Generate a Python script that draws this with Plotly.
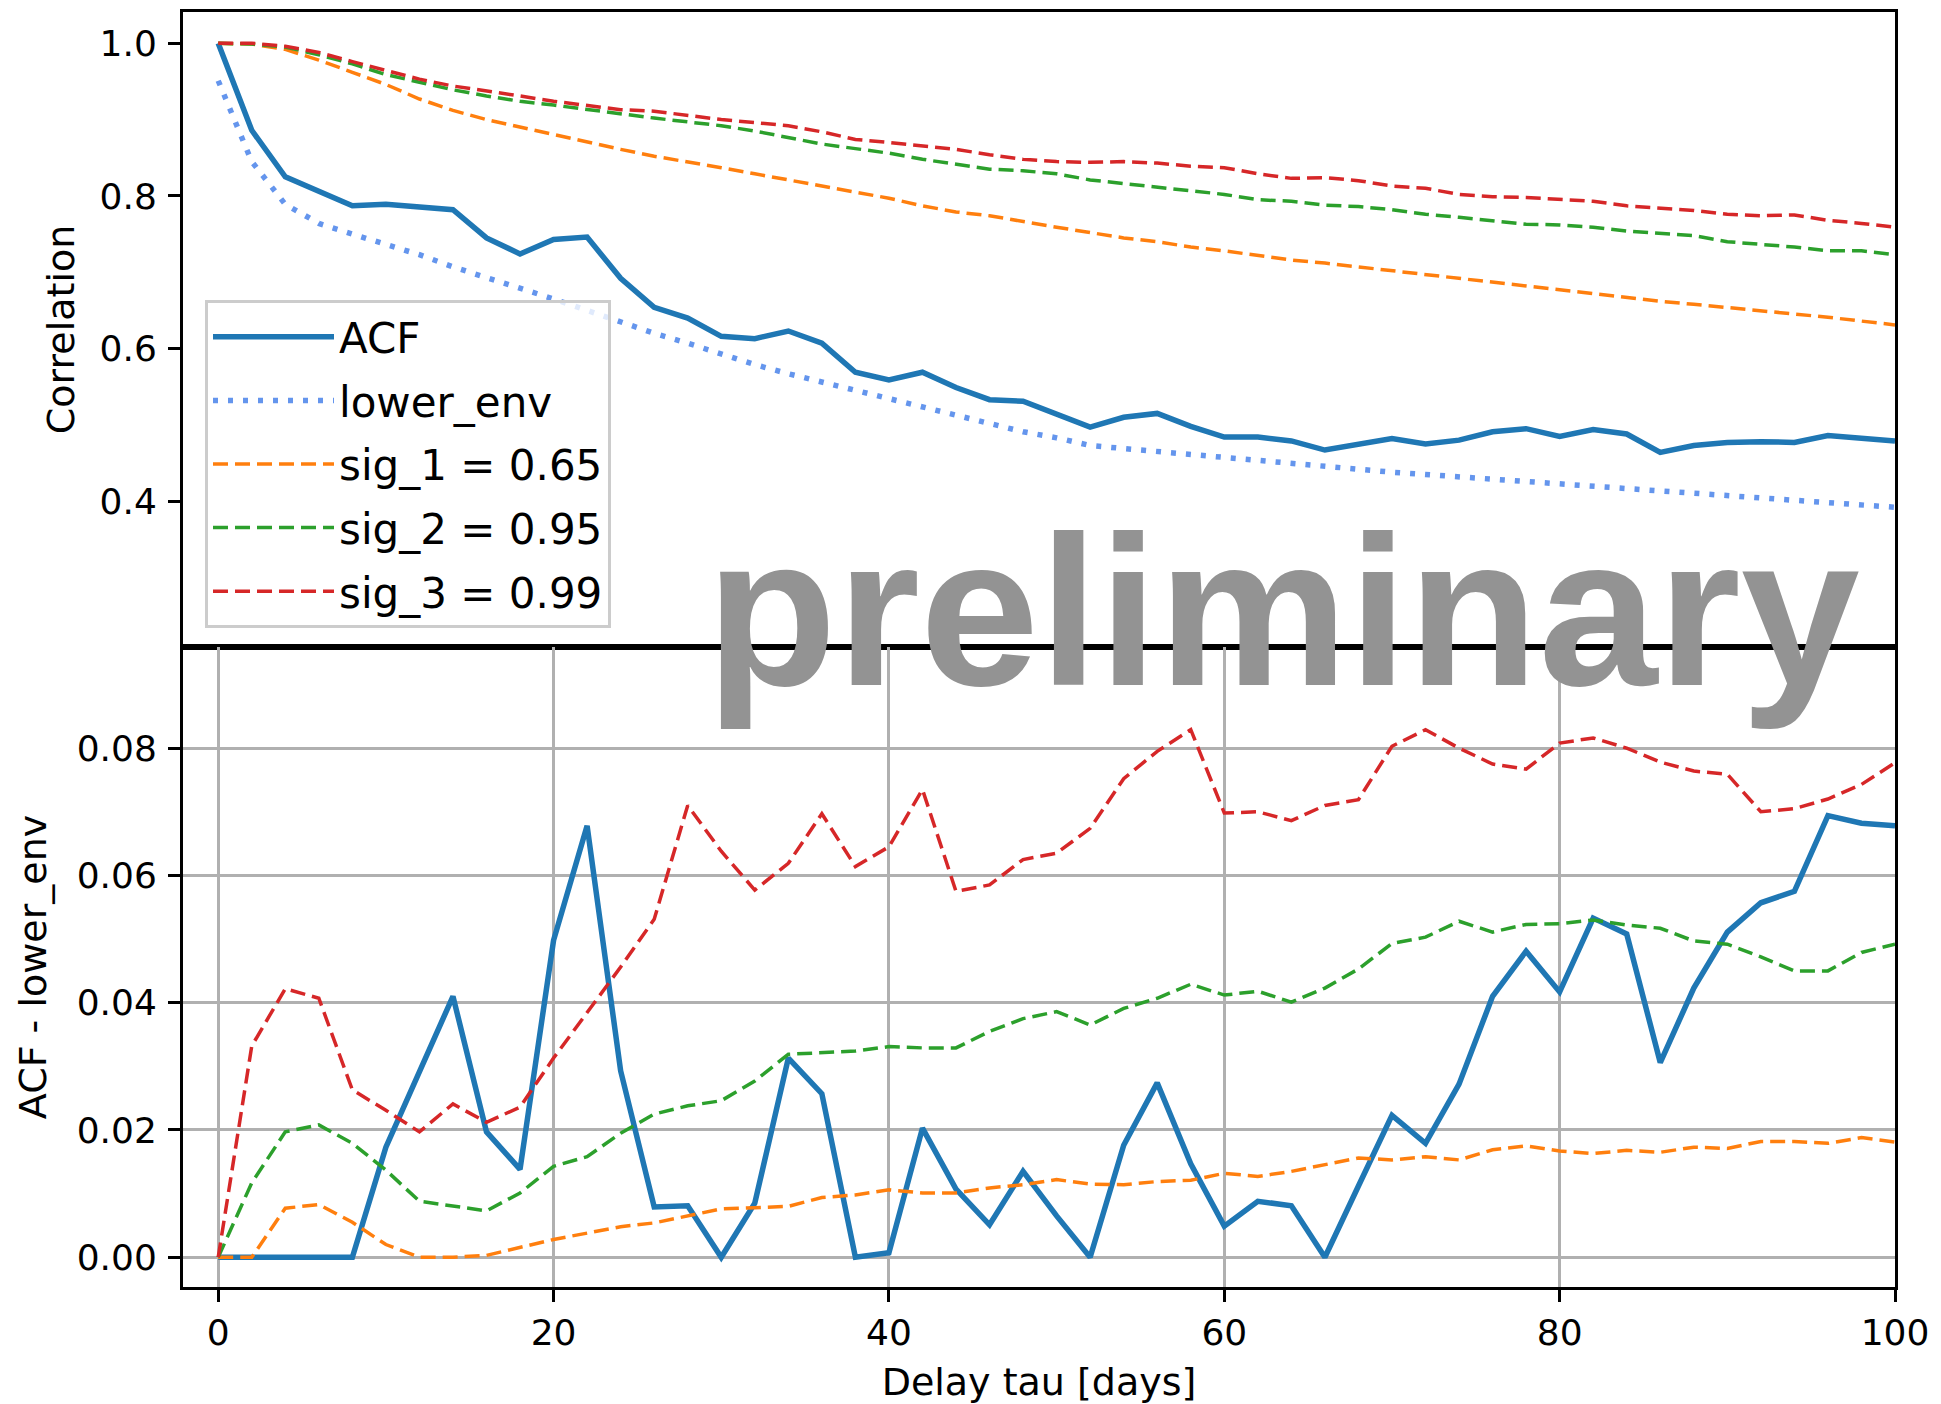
import plotly.graph_objects as go
from plotly.subplots import make_subplots

# Delay grid (days)
tau = list(range(0, 101, 2))

# Upper panel: autocorrelation, its lower envelope and significance levels
acf = [1.0, 0.886, 0.825, 0.806, 0.787, 0.789, 0.786, 0.782, 0.745, 0.724, 0.743, 0.746, 0.692,
       0.654, 0.640, 0.616, 0.613, 0.623, 0.607, 0.569, 0.559, 0.569, 0.549, 0.533, 0.531, 0.514,
       0.497, 0.510, 0.515, 0.498, 0.484, 0.484, 0.479, 0.467, 0.474, 0.482, 0.475, 0.480, 0.491,
       0.495, 0.485, 0.494, 0.488, 0.464, 0.473, 0.477, 0.478, 0.477, 0.486, 0.483, 0.479]
lower_env = [0.951, 0.845, 0.789, 0.764, 0.750, 0.737, 0.723, 0.707, 0.693, 0.680, 0.665, 0.650,
             0.635, 0.620, 0.607, 0.593, 0.579, 0.567, 0.556, 0.545, 0.534, 0.523, 0.512, 0.501,
             0.491, 0.483, 0.473, 0.469, 0.465, 0.461, 0.457, 0.453, 0.449, 0.445, 0.441, 0.438,
             0.435, 0.432, 0.428, 0.426, 0.422, 0.419, 0.416, 0.413, 0.410, 0.407, 0.404, 0.401,
             0.398, 0.395, 0.392]
sig_1 = [1.0, 0.999, 0.992, 0.978, 0.962, 0.946, 0.927, 0.912, 0.900, 0.890, 0.881, 0.870, 0.861,
         0.852, 0.845, 0.837, 0.829, 0.821, 0.813, 0.805, 0.797, 0.787, 0.779, 0.774, 0.766, 0.759,
         0.752, 0.745, 0.740, 0.733, 0.728, 0.722, 0.716, 0.712, 0.707, 0.701, 0.696, 0.691, 0.686,
         0.681, 0.676, 0.672, 0.667, 0.662, 0.658, 0.654, 0.649, 0.645, 0.641, 0.636, 0.631]
sig_2 = [1.0, 0.999, 0.995, 0.985, 0.973, 0.959, 0.949, 0.939, 0.931, 0.924, 0.919, 0.913, 0.908,
         0.902, 0.897, 0.892, 0.885, 0.876, 0.868, 0.862, 0.856, 0.848, 0.842, 0.835, 0.833, 0.829,
         0.821, 0.816, 0.811, 0.807, 0.802, 0.795, 0.793, 0.788, 0.786, 0.782, 0.776, 0.772, 0.768,
         0.763, 0.762, 0.759, 0.754, 0.751, 0.748, 0.740, 0.737, 0.733, 0.728, 0.728, 0.723]
sig_3 = [1.0, 1.0, 0.996, 0.988, 0.976, 0.965, 0.953, 0.944, 0.938, 0.931, 0.924, 0.919, 0.913,
         0.911, 0.905, 0.900, 0.896, 0.892, 0.884, 0.874, 0.870, 0.865, 0.861, 0.854, 0.848, 0.845,
         0.844, 0.845, 0.843, 0.839, 0.837, 0.829, 0.823, 0.824, 0.820, 0.813, 0.810, 0.802, 0.799,
         0.798, 0.795, 0.793, 0.787, 0.784, 0.781, 0.776, 0.774, 0.775, 0.768, 0.764, 0.759]

# Lower panel: ACF - lower_env and the matching significance levels
diff_acf = [0.0, 0.0, 0.0, 0.0, 0.0, 0.0173, 0.029, 0.041, 0.0197, 0.0138, 0.0498, 0.0678, 0.0293,
            0.0079, 0.0081, 0.0, 0.0085, 0.0313, 0.0257, 0.0, 0.0007, 0.0203, 0.0107, 0.0051,
            0.0135, 0.0065, 0.0, 0.0176, 0.0274, 0.0147, 0.0049, 0.0088, 0.0081, 0.0, 0.0112,
            0.0223, 0.0179, 0.0272, 0.041, 0.0481, 0.0417, 0.0533, 0.0508, 0.0306, 0.0423, 0.0511,
            0.0557, 0.0575, 0.0694, 0.0682, 0.0678]
diff_sig_1 = [0.0, 0.0, 0.0077, 0.0083, 0.0055, 0.002, 0.0, 0.0, 0.0003, 0.0016, 0.0028, 0.0038,
              0.0048, 0.0054, 0.0065, 0.0076, 0.0078, 0.008, 0.0094, 0.0098, 0.0106, 0.0101,
              0.0101, 0.0109, 0.0114, 0.0122, 0.0115, 0.0114, 0.0119, 0.0121, 0.0132, 0.0127,
              0.0135, 0.0145, 0.0156, 0.0153, 0.0158, 0.0153, 0.0169, 0.0175, 0.0167, 0.0163,
              0.0168, 0.0165, 0.0173, 0.0171, 0.0182, 0.0182, 0.0179, 0.0188, 0.0181]
diff_sig_2 = [0.0, 0.0117, 0.0197, 0.0208, 0.0179, 0.0137, 0.0088, 0.008, 0.0073, 0.0101, 0.0143,
              0.0158, 0.0195, 0.0225, 0.0238, 0.0246, 0.0277, 0.0319, 0.0321, 0.0324, 0.0331,
              0.0329, 0.0329, 0.0355, 0.0375, 0.0386, 0.0365, 0.0391, 0.0407, 0.0429, 0.0412,
              0.0418, 0.0401, 0.0423, 0.0453, 0.0493, 0.0503, 0.0528, 0.0511, 0.0523, 0.0524,
              0.053, 0.0522, 0.0517, 0.0497, 0.0492, 0.0472, 0.045, 0.045, 0.0479, 0.0492]
diff_sig_3 = [0.0, 0.0332, 0.0422, 0.0407, 0.0263, 0.0231, 0.0197, 0.0241, 0.0212, 0.0236, 0.0313,
              0.0384, 0.0456, 0.0531, 0.071, 0.0638, 0.0577, 0.0619, 0.0697, 0.0614, 0.0645,
              0.0735, 0.0575, 0.0585, 0.0625, 0.0635, 0.0674, 0.0752, 0.0795, 0.0829, 0.0698,
              0.07, 0.0686, 0.071, 0.0719, 0.0803, 0.0829, 0.08, 0.0775, 0.0767, 0.0808, 0.0816,
              0.08, 0.0778, 0.0764, 0.0759, 0.07, 0.0705, 0.072, 0.0743, 0.0777]

sig_names = ["sig_1 = 0.65", "sig_2 = 0.95", "sig_3 = 0.99"]
x_ticks = [0, 20, 40, 60, 80, 100]
top_ticks = [0.4, 0.6, 0.8, 1.0]
bottom_ticks = [0.0, 0.02, 0.04, 0.06, 0.08]

C_ACF = "#1f77b4"
C_ENV = "#6495ed"
C_SIG = ["#ff7f0e", "#2ca02c", "#d62728"]

fig = make_subplots(rows=2, cols=1, shared_xaxes=True, vertical_spacing=0)

# top panel
fig.add_trace(go.Scatter(x=tau, y=acf, name="ACF", mode="lines", legendgroup="acf",
                         line=dict(color=C_ACF, width=5.5)), row=1, col=1)
fig.add_trace(go.Scatter(x=tau, y=lower_env, name="lower_env", mode="lines", legendgroup="env",
                         line=dict(color=C_ENV, width=5.5, dash="5px,10px")), row=1, col=1)
for name, ys, col in zip(sig_names, [sig_1, sig_2, sig_3], C_SIG):
    fig.add_trace(go.Scatter(x=tau, y=ys, name=name, mode="lines", legendgroup=name,
                             line=dict(color=col, width=3.5, dash="15px,7px")), row=1, col=1)

# bottom panel
fig.add_trace(go.Scatter(x=tau, y=diff_acf, mode="lines", showlegend=False,
                         line=dict(color=C_ACF, width=5.5)), row=2, col=1)
for ys, col in zip([diff_sig_1, diff_sig_2, diff_sig_3], C_SIG):
    fig.add_trace(go.Scatter(x=tau, y=ys, mode="lines", showlegend=False,
                             line=dict(color=col, width=3.5, dash="15px,7px")), row=2, col=1)

frame = dict(showline=True, linecolor="black", linewidth=3, mirror=True, zeroline=False)
tick_style = dict(ticks="outside", ticklen=12, tickwidth=3, tickcolor="black",
                  tickfont=dict(size=36))
grid = dict(showgrid=True, gridcolor="#b0b0b0", gridwidth=3)
title_font = dict(size=38)

fig.update_layout(
    template="none",
    width=1941, height=1404,
    margin=dict(l=183, r=46, t=12, b=117, autoexpand=False),
    plot_bgcolor="white", paper_bgcolor="white",
    font=dict(family="DejaVu Sans", size=36, color="black"),
    xaxis=dict(domain=[0, 1], range=[-2.1, 100], showticklabels=False, ticks="",
               showgrid=False, **frame),
    yaxis=dict(domain=[0.502, 1], range=[0.209, 1.041], tickvals=top_ticks, tickformat=".1f",
               showgrid=False, ticklabelstandoff=4,
               title=dict(text="Correlation", standoff=14, font=title_font),
               **tick_style, **frame),
    xaxis2=dict(domain=[0, 1], range=[-2.1, 100], tickvals=x_ticks,
                title=dict(text="Delay tau [days]", standoff=18, font=title_font),
                **grid, **tick_style, **frame),
    yaxis2=dict(domain=[0, 0.502], range=[-0.00467, 0.0959], tickvals=bottom_ticks,
                tickformat=".2f", ticklabelstandoff=4,
                title=dict(text="ACF - lower_env", standoff=19, font=title_font),
                **grid, **tick_style, **frame),
    legend=dict(x=(205 - 183) / 1712, y=1 - (300 - 12) / 1275, xanchor="left", yanchor="top",
                bgcolor="rgba(255,255,255,0.8)", bordercolor="#cccccc", borderwidth=3,
                font=dict(size=42), itemwidth=121, tracegroupgap=6, traceorder="grouped"),
)

fig.add_annotation(text="preliminary", xref="paper", yref="paper",
                   x=(703.5 - 183) / 1712, y=0.5304, xanchor="left", yanchor="middle",
                   showarrow=False,
                   font=dict(family="Liberation Sans", size=214, color="#939393", weight="bold"))

fig.write_html("out.html")
